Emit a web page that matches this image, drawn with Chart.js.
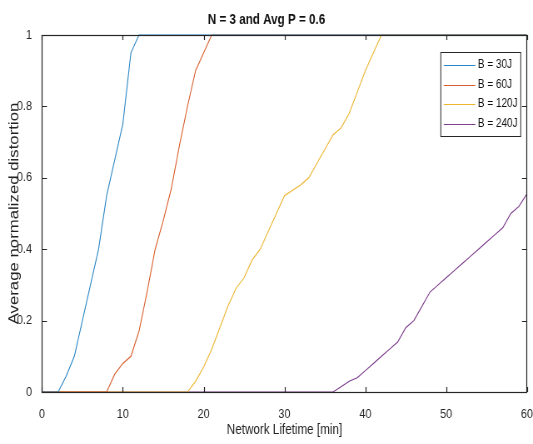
<!DOCTYPE html>
<html>
<head>
<meta charset="utf-8">
<script src="https://cdn.jsdelivr.net/npm/chart.js@4.4.1/dist/chart.umd.min.js"></script>
<style>
  html, body { margin: 0; padding: 0; background: #fff; overflow: hidden; }
  /* figure was squeezed horizontally in the original export, so draw wide and squeeze */
  #wrap { width: 640px; height: 444px; transform: scaleX(0.8328); transform-origin: 0 0; }
</style>
</head>
<body>
<div id="wrap"><canvas id="ch" width="640" height="444"></canvas></div>
<script>
// minutes on the x axis (0..60)
const minutes = [0,1,2,3,4,5,6,7,8,9,10,11,12,13,14,15,16,17,18,19,20,21,22,23,24,25,26,27,28,29,30,
  31,32,33,34,35,36,37,38,39,40,41,42,43,44,45,46,47,48,49,50,51,52,53,54,55,56,57,58,59,60];

// average normalized distortion per battery budget
const b30 = [0,0,0,0.045,0.1,0.2,0.3,0.4,0.55,0.65,0.75,0.95,1,1,1,1,1,1,1,1,1,
  1,1,1,1,1,1,1,1,1,1,1,1,1,1,1,1,1,1,1,1,1,1,1,1,1,1,1,1,1,1,1,1,1,1,1,1,1,1,1,1];
const b60 = [0,0,0,0,0,0,0,0,0,0.05,0.08,0.1,0.17,0.28,0.4,0.48,0.57,0.69,0.8,0.9,0.95,
  1,1,1,1,1,1,1,1,1,1,1,1,1,1,1,1,1,1,1,1,1,1,1,1,1,1,1,1,1,1,1,1,1,1,1,1,1,1,1,1];
const b120 = [0,0,0,0,0,0,0,0,0,0,0,0,0,0,0,0,0,0,0,0.03,0.07,
  0.12,0.18,0.24,0.29,0.32,0.37,0.4,0.45,0.5,0.55,0.565,0.58,0.6,0.64,0.68,0.72,0.74,0.78,0.84,0.9,
  0.95,1,1,1,1,1,1,1,1,1,1,1,1,1,1,1,1,1,1,1];
const b240 = [0,0,0,0,0,0,0,0,0,0,0,0,0,0,0,0,0,0,0,0,0,
  0,0,0,0,0,0,0,0,0,0,0,0,0,0,0,0,0.015,0.03,0.04,0.06,
  0.08,0.1,0.12,0.14,0.18,0.2,0.24,0.28,0.3,0.32,0.34,0.36,0.38,0.4,0.42,0.44,0.46,0.5,0.52,0.555];

const seriesNames = ['B = 30J', 'B = 60J', 'B = 120J', 'B = 240J'];
const seriesCols  = ['#2a86c4', '#d9602e', '#ebb52e', '#7e3f8e'];
const xTicks = [0, 10, 20, 30, 40, 50, 60];
const yTicks = [0, 0.2, 0.4, 0.6, 0.8, 1];

const FONT = "'Liberation Sans', Arial, sans-serif";
const AX = '#262626';

const pts = arr => minutes.map((m, i) => ({ x: m, y: arr[i] }));

// box + inward ticks like matlab, drawn over the lines
const boxPlugin = {
  id: 'box',
  afterDatasetsDraw(chart) {
    const { ctx, chartArea: a, scales } = chart;
    ctx.save();
    ctx.strokeStyle = AX;
    ctx.lineWidth = 1.2;
    ctx.beginPath();
    xTicks.forEach(v => {
      const px = Math.round(scales.x.getPixelForValue(v)) + 0.5;
      ctx.moveTo(px, a.bottom); ctx.lineTo(px, a.bottom - 5);
      ctx.moveTo(px, a.top); ctx.lineTo(px, a.top + 5);
    });
    yTicks.forEach(v => {
      const py = Math.round(scales.y.getPixelForValue(v)) + 0.5;
      ctx.moveTo(a.left, py); ctx.lineTo(a.left + 6, py);
      ctx.moveTo(a.right, py); ctx.lineTo(a.right - 6, py);
    });
    ctx.stroke();
    ctx.strokeRect(Math.round(a.left) + 0.5, Math.round(a.top) + 0.5,
      Math.round(a.right - a.left), Math.round(a.bottom - a.top));

    // legend box
    const lx = a.right - 104, ly = a.top + 17, lw = 96, lh = 84;
    ctx.fillStyle = '#fff';
    ctx.fillRect(lx, ly, lw, lh);
    ctx.lineWidth = 1;
    ctx.strokeStyle = AX;
    ctx.strokeRect(lx + 0.5, ly + 0.5, lw, lh);
    ctx.font = '12px ' + FONT;
    ctx.textBaseline = 'middle';
    chart.data.datasets.forEach((ds, i) => {
      const yy = ly + 13 + i * 19.5;
      ctx.strokeStyle = ds.borderColor;
      ctx.beginPath();
      ctx.moveTo(lx + 4, Math.round(yy) + 0.5);
      ctx.lineTo(lx + 42, Math.round(yy) + 0.5);
      ctx.stroke();
      ctx.fillStyle = '#111';
      ctx.fillText(ds.label, lx + 45, yy);
    });
    ctx.restore();
  }
};

new Chart(document.getElementById('ch'), {
  type: 'line',
  data: {
    datasets: [b30, b60, b120, b240].map((arr, i) => ({
      label: seriesNames[i],
      data: pts(arr),
      borderColor: seriesCols[i],
      borderWidth: 1.1,
      pointRadius: 0,
      tension: 0,
      fill: false,
      clip: 2
    }))
  },
  options: {
    responsive: false,
    animation: false,
    layout: { padding: { left: 0, right: 0, top: 0, bottom: 0 } },
    plugins: {
      legend: { display: false },
      tooltip: { enabled: false },
      title: {
        display: true,
        text: 'N = 3 and Avg P = 0.6',
        color: '#111',
        font: { family: FONT, size: 14, weight: 'bold' },
        padding: { top: 12.2, bottom: 6 }
      }
    },
    scales: {
      x: {
        type: 'linear', min: 0, max: 60,
        grid: { display: false }, border: { display: false },
        afterBuildTicks: s => { s.ticks = xTicks.map(v => ({ value: v })); },
        ticks: { color: AX, padding: 7, maxRotation: 0, font: { family: FONT, size: 13 } },
        title: {
          display: true, text: 'Network Lifetime [min]', color: '#222',
          font: { family: FONT, size: 14 }, padding: { top: 0, bottom: 5.6 }
        },
        afterFit: s => { s.height = 52; s.paddingLeft = 0; s.paddingRight = 7.2; }
      },
      y: {
        min: 0, max: 1,
        grid: { display: false }, border: { display: false },
        afterBuildTicks: s => { s.ticks = yTicks.map(v => ({ value: v })); },
        ticks: {
          color: AX, padding: 4, font: { family: FONT, size: 13 },
          callback: v => String(Math.round(v * 10) / 10)
        },
        title: {
          display: true, text: 'Average normalized distortion', color: '#222',
          font: { family: FONT, size: 16.8 },
          padding: { top: 7, bottom: 0 }
        },
        afterFit: s => { s.width = 50.4; }
      }
    }
  },
  plugins: [boxPlugin]
});
</script>
</body>
</html>
